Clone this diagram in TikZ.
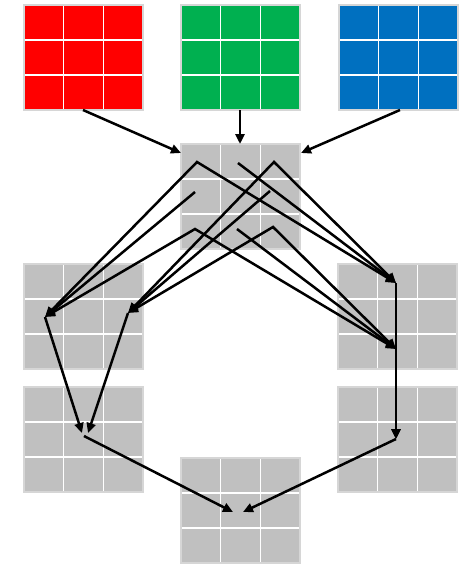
\documentclass[tikz,border=0pt]{standalone}
\usetikzlibrary{arrows.meta,calc}
\definecolor{gridred}{HTML}{FF0000}
\definecolor{gridgreen}{HTML}{00B050}
\definecolor{gridblue}{HTML}{0070C0}
\definecolor{gridgray}{HTML}{C0C0C0}
\definecolor{gridedge}{HTML}{D6D6D6}
\tikzset{
  cellgrid/.style={rectangle, draw=gridedge, line width=1.2pt, fill=#1,
    minimum width=119pt, minimum height=105pt, inner sep=0pt, outer sep=0pt,
    anchor=north west,
    path picture={
      \foreach \f in {1,2}{
        \draw[white, line width=1.2pt]
          ($(path picture bounding box.north west)!\f/3!(path picture bounding box.north east)$) --
          ($(path picture bounding box.south west)!\f/3!(path picture bounding box.south east)$);
        \draw[white, line width=1.2pt]
          ($(path picture bounding box.north west)!\f/3!(path picture bounding box.south west)$) --
          ($(path picture bounding box.north east)!\f/3!(path picture bounding box.south east)$);
      }
    }},
  flow/.style={line width=2.5pt, -{Triangle[length=10pt,width=9pt]}},
  twoway/.style={line width=2.5pt,
    {Triangle[length=10pt,width=9pt]}-{Triangle[length=10pt,width=9pt]}},
}
\begin{document}
\begin{tikzpicture}[x=1pt,y=-1pt]
\useasboundingbox (0,0) rectangle (464,566);

% input channels
\node[cellgrid=gridred]   (red)   at (24,5)  {};
\node[cellgrid=gridgreen] (green) at (181,5) {};
\node[cellgrid=gridblue]  (blue)  at (339,5) {};

% feature maps
\node[cellgrid=gridgray] (mid)    at (181,144) {};
\node[cellgrid=gridgray] (leftu)  at (24,264)  {};
\node[cellgrid=gridgray] (rightu) at (338,264) {};
\node[cellgrid=gridgray] (leftl)  at (24,387)  {};
\node[cellgrid=gridgray] (rightl) at (338,387) {};
\node[cellgrid=gridgray] (bottom) at (181,458) {};

% connection points
\coordinate (r0) at (83,110);
\coordinate (g0) at (240,110);
\coordinate (b0) at (400,110);
\coordinate (m1) at (181,153);
\coordinate (m2) at (240,144);
\coordinate (m3) at (301,153);

\coordinate (pA) at (197,162);
\coordinate (pB) at (238,163);
\coordinate (pC) at (274,162);
\coordinate (pD) at (195,192);
\coordinate (pE) at (270,191);
\coordinate (pF) at (195,229);
\coordinate (pG) at (237,229);
\coordinate (pH) at (273,227);

\coordinate (L1) at (45,317);
\coordinate (L2) at (128,313);
\coordinate (R1) at (396,283);
\coordinate (R2) at (396,349);

\coordinate (LLa) at (82,433);
\coordinate (LLb) at (88,433);
\coordinate (LL)  at (84,436);
\coordinate (RL)  at (396,439);
\coordinate (Ba)  at (233,512);
\coordinate (Bb)  at (243,512);

% channels into the stacked map
\draw[flow] (r0) -- (m1);
\draw[flow] (g0) -- (m2);
\draw[flow] (b0) -- (m3);

% first row
\draw[twoway] (L1) -- (pA) -- (R1);
\draw[flow] (pB) -- (R1);
\draw[twoway] (L2) -- (pC) -- (R1);
% second row
\draw[flow] (pD) -- (L1);
\draw[flow] (pE) -- (L2);
% third row
\draw[twoway] (L1) -- (pF) -- (R2);
\draw[flow] (pG) -- (R2);
\draw[twoway] (L2) -- (pH) -- (R2);

% merging stages
\draw[flow] (L1) -- (LLa);
\draw[flow] (L2) -- (LLb);
\draw[flow] (R1) -- (RL);
\draw[flow] (R2) -- (RL);
\draw[flow] (LL) -- (Ba);
\draw[flow] (RL) -- (Bb);
\end{tikzpicture}
\end{document}
